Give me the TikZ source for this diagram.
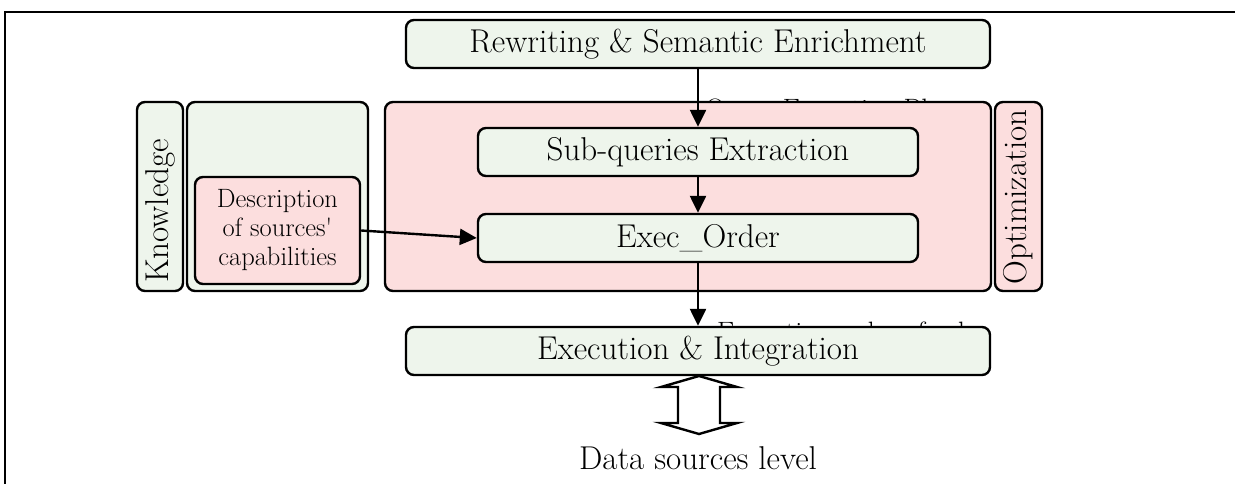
\documentclass[tikz,border=0pt]{standalone}
\usetikzlibrary{arrows.meta}
\definecolor{boxgreen}{RGB}{238,245,236}
\definecolor{boxpink}{RGB}{252,222,222}
\tikzset{
  every picture/.style={x=1pt,y=-1pt},
  frame/.style={line width=2.4pt},
  gbox/.style={draw,line width=2.4pt,rounded corners=8pt,fill=boxgreen,inner sep=0pt},
  pbox/.style={draw,line width=2.4pt,rounded corners=8pt,fill=boxpink,inner sep=0pt},
  bigtext/.style={font=\fontsize{33}{38}\selectfont},
  smalltext/.style={font=\fontsize{26.5}{29}\selectfont},
  hidtext/.style={font=\fontsize{28}{24}\selectfont,inner sep=0pt,anchor=north west,align=left},
  flow/.style={line width=2.4pt,-{Triangle[length=17pt,width=16pt]}},
}
\newcommand{\boxat}[6]{% style, name, x1, y1, x2, y2
  \node[#1,minimum width={#5-#3},minimum height={#6-#4}] (#2) at ({(#3+#5)/2},{(#4+#6)/2}) {};}
\begin{document}
\begin{tikzpicture}
\useasboundingbox (0,0) rectangle (1235,483);
\clip (0,0) rectangle (1235,483);
\fill[white] (0,0) rectangle (1235,483);
% outer frame (only top and left visible)
\draw[frame] (1240,12) -- (5,12) -- (5,490);

% partially hidden labels (behind boxes)
\node[hidtext] (qep) at (705,98.5) {Query Execution Plan};
\node[hidtext] (eos) at (717,321.5) {Execution order of sub-\\queries};

% boxes
\boxat{gbox}{rw}{406}{20}{990}{68}
\node[bigtext] at (rw) {Rewriting \& Semantic Enrichment};

\boxat{gbox}{kn}{137}{102}{183}{291}
\node[bigtext,rotate=90] at (160,211) {Knowledge};
\boxat{gbox}{kc}{187}{102}{368}{291}
\boxat{pbox}{desc}{195}{177}{360}{284}
\node[smalltext,align=center] at (desc) {Description\\of sources\textquotesingle\\capabilities};

\boxat{pbox}{qp}{385}{102}{991}{291}
\boxat{pbox}{opt}{995}{102}{1042}{291}
\node[bigtext,rotate=90] at (1018,197) {Optimization};

\boxat{gbox}{sq}{478}{128}{918}{176}
\node[bigtext] at (sq) {Sub-queries Extraction};
\boxat{gbox}{eo}{478}{214}{918}{262}
\node[bigtext] at (eo) {Exec\_Order};

\boxat{gbox}{ei}{406}{327}{990}{375}
\node[bigtext] at (ei) {Execution \& Integration};

\node[bigtext] (ds) at (698,458) {Data sources level};

% connectors
\draw[flow] (rw.south) -- (rw.south |- sq.north);
\draw[flow] (sq.south) -- (eo.north);
\draw[flow] (eo.south) -- (eo.south |- ei.north);
\draw[flow] (desc.east) -- (eo.west);

% hollow double arrow
\draw[line width=2.4pt,line join=miter,fill=white]
  (699,376) -- (737,387) -- (720,387) -- (720,423) -- (737,423) -- (699,434)
  -- (661,423) -- (678,423) -- (678,387) -- (661,387) -- cycle;
\end{tikzpicture}
\end{document}
